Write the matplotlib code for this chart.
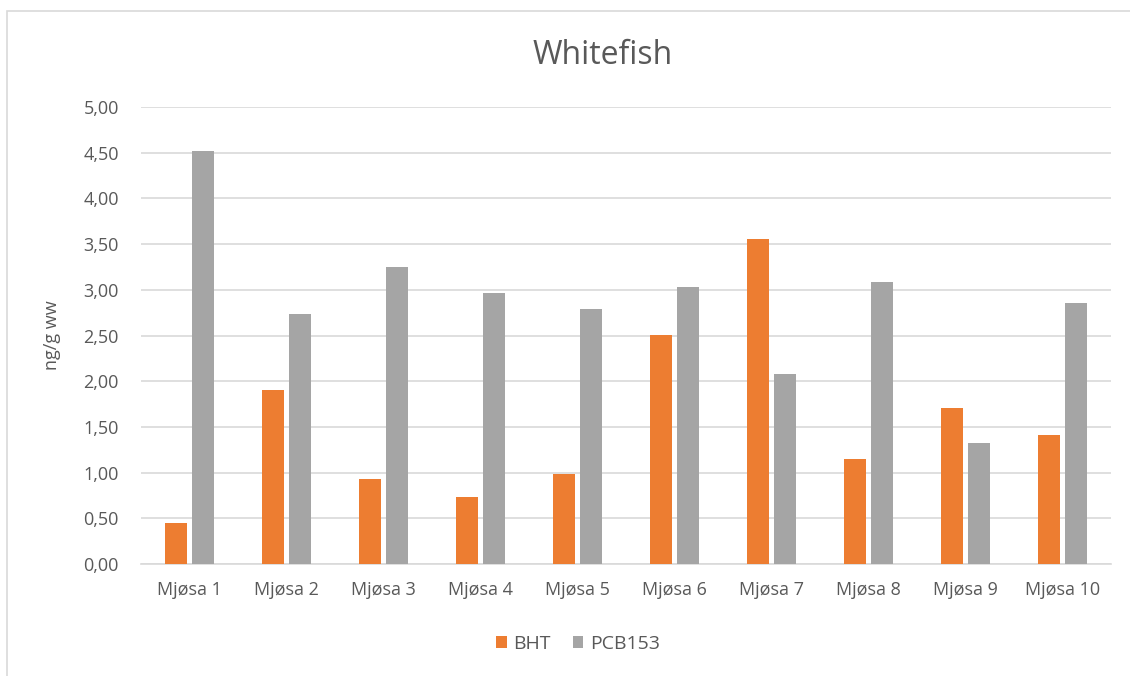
import matplotlib
matplotlib.use("Agg")
import matplotlib.pyplot as plt
from matplotlib.ticker import FuncFormatter, MultipleLocator
from matplotlib.patches import Rectangle
import numpy as np

plt.rcParams['font.family'] = ['Open Sans', 'DejaVu Sans']

# data
sites = ["Mjøsa 1", "Mjøsa 2", "Mjøsa 3", "Mjøsa 4", "Mjøsa 5",
         "Mjøsa 6", "Mjøsa 7", "Mjøsa 8", "Mjøsa 9", "Mjøsa 10"]
bht = [0.45, 1.90, 0.93, 0.73, 0.98, 2.51, 3.56, 1.15, 1.71, 1.41]
pcb153 = [4.52, 2.73, 3.25, 2.96, 2.79, 3.03, 2.08, 3.09, 1.32, 2.86]

col_bht = "#ed7d31"
col_pcb = "#a5a5a5"
textcol = "#595959"

fig = plt.figure(figsize=(11.3, 6.76), dpi=100)
ax = fig.add_axes([141/1130, 1-564/676, 970/1130, 457/676])

# chart border like the Excel chart area
fig.patches.append(Rectangle((7/1130, -0.01), 1.2, 1-11/676+0.01,
                             transform=fig.transFigure, fill=False,
                             edgecolor="#d9d9d9", linewidth=1.2))

x = np.arange(len(sites))
w = 0.227
ax.bar(x - 0.143, bht, w, color=col_bht, label="BHT", zorder=3)
ax.bar(x + 0.143, pcb153, w, color=col_pcb, label="PCB153", zorder=3)

ax.set_xlim(-0.5, len(sites) - 0.5)
ax.set_ylim(0, 5)
ax.yaxis.set_major_locator(MultipleLocator(0.5))
ax.yaxis.set_major_formatter(FuncFormatter(lambda v, p: f"{v:.2f}".replace(".", ",")))
ax.grid(axis="y", color="#d9d9d9", linewidth=1.2, zorder=0)
for s in ["top", "right", "left"]:
    ax.spines[s].set_visible(False)
ax.spines["bottom"].set_color("#d9d9d9")
ax.spines["bottom"].set_linewidth(1.2)
ax.tick_params(axis="both", length=0, labelsize=13, labelcolor=textcol)
ax.tick_params(axis="y", pad=16)
ax.tick_params(axis="x", pad=12)
ax.set_xticks(x)
ax.set_xticklabels(sites)

fig.text(603/1130, 1-56/676, "Whitefish", ha="center", va="center",
         fontsize=23, color=textcol)
ax.set_ylabel("ng/g ww", fontsize=13, color=textcol, labelpad=16)

fig.legend(loc="center", bbox_to_anchor=(578/1130, 1-644/676), ncol=2, frameon=False,
           fontsize=14, labelcolor=textcol, handlelength=0.55, handleheight=0.55,
           columnspacing=1.1, handletextpad=0.35)

fig.savefig("out.png", dpi=100)
